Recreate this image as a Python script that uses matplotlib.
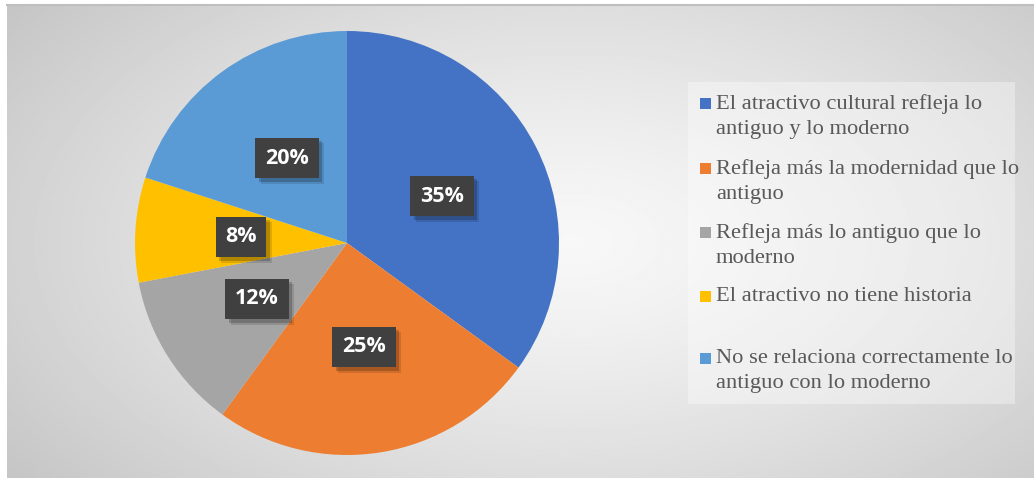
import numpy as np
import matplotlib.pyplot as plt
import matplotlib.patheffects as pe
from matplotlib.patches import Rectangle

# datos
categorias = [
    "El atractivo cultural refleja lo\nantiguo y lo moderno",
    "Refleja más la modernidad que lo\nantiguo",
    "Refleja más lo antiguo que lo\nmoderno",
    "El atractivo no tiene historia",
    "No se relaciona correctamente lo\nantiguo con lo moderno",
]
porcentajes = [35, 25, 12, 8, 20]
colores = ["#4472C4", "#ED7D31", "#A5A5A5", "#FFC000", "#5B9BD5"]

W, H = 1034, 478
fig = plt.figure(figsize=(W / 100, H / 100), dpi=100)
fig.patch.set_facecolor("white")

# fondo con degradado radial
bg = fig.add_axes([7 / W, 0, 1 - 7 / W, 1 - 5 / H])
yy, xx = np.mgrid[0:1:300j, 0:1:600j]
r = np.sqrt(((xx - 0.55) / 0.75) ** 2 + ((yy - 0.5) / 0.9) ** 2)
v = np.clip(0.97 - 0.22 * r ** 1.3, 0.76, 0.97)
bg.imshow(v, cmap="gray", vmin=0, vmax=1, aspect="auto", extent=[0, 1, 0, 1])
bg.set_xlim(0, 1)
bg.set_ylim(0, 1)
bg.axis("off")
fig.add_artist(plt.Line2D([7 / W, 1], [1 - 5 / H, 1 - 5 / H], color="#bfbfbf", lw=1.5))

# pastel
cx, cy, rad = 347, 243, 212
ax = fig.add_axes([(cx - rad) / W, (H - cy - rad) / H, 2 * rad / W, 2 * rad / H])
wedges, _ = ax.pie(porcentajes, colors=colores, startangle=90, counterclock=False,
                   radius=1.0)
ax.set_xlim(-1, 1)
ax.set_ylim(-1, 1)
ax.set_aspect("auto")

# etiquetas con recuadro oscuro
pos_etiquetas = [(442, 196), (364, 347), (257, 299), (241, 237), (287, 158)]
for p, (px, py) in zip(porcentajes, pos_etiquetas):
    x = (px - cx) / rad
    y = (cy - py) / rad
    t = ax.text(x, y, f"{p}%", ha="center", va="center", fontsize=15.5,
                fontweight="bold", family="Open Sans", color="white",
                bbox=dict(boxstyle="square,pad=0.45", fc="#404040", ec="none"))
    t.get_bbox_patch().set_path_effects([
        pe.SimplePatchShadow(offset=(4, -4), shadow_rgbFace="black", alpha=0.12),
        pe.SimplePatchShadow(offset=(2.5, -2.5), shadow_rgbFace="black", alpha=0.2),
        pe.Normal()])

# leyenda
fig.add_artist(Rectangle((688 / W, 1 - 404 / H), (1015 - 688) / W, (404 - 82) / H,
                         transform=fig.transFigure, fc="white", ec="none", alpha=0.35))
y_items = [103, 168, 232, 296, 358]
for lab, col, yi in zip(categorias, colores, y_items):
    fig.add_artist(Rectangle((700 / W, 1 - (yi + 6) / H), 11 / W, 11 / H,
                             transform=fig.transFigure, fc=col, ec="none"))
    fig.text(716 / W, 1 - (yi - 9) / H, lab, ha="left", va="top", fontsize=16.2,
             family="Liberation Serif", color="#595959", linespacing=1.4)

fig.savefig("out.png", dpi=100)
